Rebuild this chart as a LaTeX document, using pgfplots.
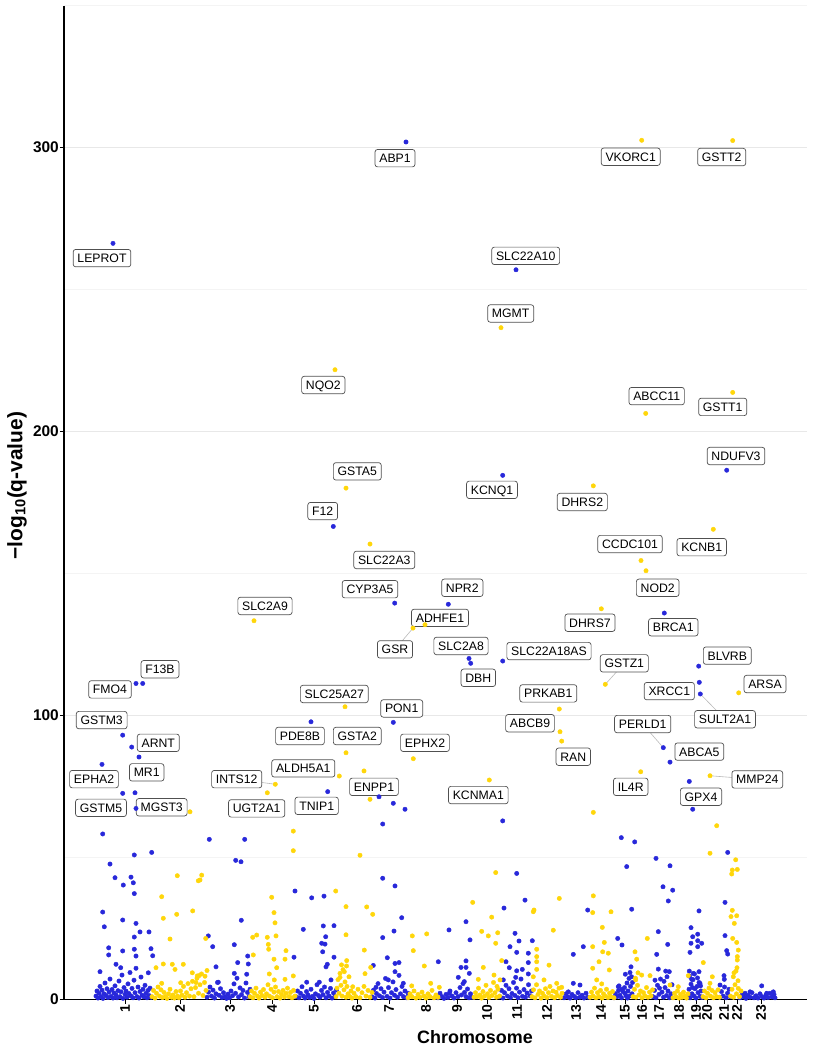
\documentclass[border=0pt]{standalone}
\usepackage{pgfplots}
\pgfplotsset{compat=1.18}
\usepackage{fontspec}
\setmainfont{Liberation Sans}
\definecolor{cblue}{RGB}{40,40,218}
\definecolor{cgold}{RGB}{255,214,10}
\definecolor{gridmaj}{RGB}{232,232,232}
\definecolor{gridmin}{RGB}{244,244,244}
\definecolor{boxline}{RGB}{80,80,80}
\definecolor{segline}{RGB}{185,185,185}
\begin{document}
\begin{tikzpicture}[
  lab/.style={draw=boxline, line width=0.7bp, fill=white, rounded corners=2.5bp, inner xsep=4.3bp, inner ysep=4.2bp, text height=9bp, text depth=0bp, font=\fontsize{12.3}{14}\selectfont},
  seg/.style={draw=segline, line width=0.6bp}]
\begin{axis}[
  scale only axis, width=743bp, height=993.8bp,
  xmin=64, xmax=807, ymin=0, ymax=350,
  axis x line=bottom, axis y line=left,
  axis line style={-, line width=1.1bp, black},
  clip=false,
  xtick={125,180,230,272,314,357,389,426,457,487,517,547,576,601,625,642,659,679,696,707,724,737,761},
  xticklabels={1,2,3,4,5,6,7,8,9,10,11,12,13,14,15,16,17,18,19,20,21,22,23},
  ytick={0,100,200,300}, minor ytick={50,150,250,350},
  ymajorgrids, yminorgrids,
  major grid style={gridmaj, line width=0.8bp},
  minor grid style={gridmin, line width=0.6bp},
  tick align=outside, major tick length=4bp, minor tick length=0pt,
  tick style={black, line width=0.8bp},
  xticklabel style={rotate=90, anchor=east, font=\bfseries\fontsize{14}{16}\selectfont, inner sep=1.5bp},
  yticklabel style={font=\bfseries\fontsize{15.5}{17}\selectfont, inner sep=1bp},
  /pgf/number format/assume math mode=true,
  bluept/.style={only marks, mark=*, mark size=2.2bp, color=cblue, mark options={solid, fill=cblue, draw=cblue, line width=0.4bp}},
  goldpt/.style={only marks, mark=*, mark size=2.2bp, color=cgold, mark options={solid, fill=cgold, draw=cgold, line width=0.4bp}},
]
% ---- blue (odd chromosomes): low band
\addplot[bluept] coordinates {
(96,1.2)(97,3.0)(98,0.5)(99,2.2)(100,4.6)(101,1.0)(102,3.3)(103,0.4)(104,2.0)(105,5.8)(106,1.4)(107,3.8)(108,0.7)(109,2.6)(110,7.2)(111,1.1)(112,3.5)(113,0.5)(114,2.3)(115,4.8)(116,1.6)(117,0.6)(118,3.1)(119,6.5)(120,1.0)(121,2.7)(122,8.6)(123,0.4)(124,4.2)(125,1.8)(126,3.0)(127,0.8)(128,5.5)(129,2.1)(130,9.5)(131,1.2)(132,3.9)(133,0.6)(134,6.8)(135,2.4)(136,11.0)(137,1.0)(138,4.4)(139,0.5)(140,2.8)(141,7.9)(142,1.5)(143,3.6)(144,0.9)(145,5.0)(146,2.2)(147,0.6)(148,3.2)(149,1.4)(150,4.0)(151,0.8)
(207,0.8)(208.5,2.6)(210,4.4)(211.5,1.2)(213,3.3)(214.5,0.5)(216,2.0)(217.5,6.0)(219,1.5)(220.5,3.8)(222,0.7)(223.5,2.4)(225,1.0)(226.5,0.4)(228,1.9)(229.5,0.6)(231,3.0)(232.5,1.3)(234,5.5)(235.5,2.2)(237,7.5)(238.5,0.9)(240,4.1)(241.5,1.7)(243,3.2)(244.5,0.5)(246,5.8)(247.5,2.5)(249,1.0)(250,3.6)
(296,1.0)(297.5,3.0)(299,0.6)(300.5,2.2)(302,4.5)(303.5,1.2)(305,0.5)(306.5,2.8)(308,1.6)(309.5,0.7)(311,3.6)(312.5,1.1)(314,0.4)(315.5,2.0)(317,5.2)(318.5,1.4)(320,0.8)(321.5,3.2)(323,1.7)(324.5,4.4)(326,0.6)(327.5,2.5)(329,1.2)(330.5,3.9)(332,0.5)(333.5,2.3)(335,1.0)(336.5,3.4)
(372,1.0)(373.5,3.3)(375,0.5)(376.5,2.1)(378,5.6)(379.5,1.3)(381,3.8)(382.5,0.7)(384,2.6)(385.5,7.4)(387,1.1)(388.5,4.2)(390,0.5)(391.5,2.4)(393,6.2)(394.5,1.5)(396,3.5)(397.5,0.8)(399,8.5)(400.5,2.0)(402,4.6)(403.5,1.0)(405,3.0)(406.5,0.6)(408,2.2)
(438,0.6)(440,2.2)(442,1.0)(444,0.4)(446,1.8)(448,0.7)(450,3.0)(452,1.2)(454,0.5)(456,2.4)(458,1.0)(460,4.2)(461.5,1.6)(463,5.6)(464.5,2.5)(466,1.0)(467.5,3.7)(469,0.6)(470.5,2.0)(472,0.8)
(500,1.0)(501.5,3.2)(503,0.5)(504.5,2.4)(506,5.0)(507.5,1.2)(509,3.8)(510.5,0.7)(512,2.1)(513.5,6.0)(515,1.4)(516.5,4.0)(518,0.6)(519.5,2.6)(521,7.2)(522.5,1.1)(524,3.5)(525.5,0.8)(527,2.3)(528.5,5.2)(530,1.3)(531.5,3.0)
(564,0.6)(566,2.0)(568,0.9)(570,0.5)(572,1.8)(574,1.1)(576,0.6)(578,2.4)(580,0.8)(582,1.5)(584,0.5)(586,2.2)(588,0.8)
(614,0.6)(615.5,2.0)(617,1.0)(618.5,3.1)(620,1.5)(621.5,0.6)(623,2.8)(624.5,4.2)(626,1.3)(627,5.8)(628,3.0)(629,7.4)(630,9.5)(630.5,4.6)(631,11.5)(631.5,8.0)(632,2.0)(632.5,6.0)(629.5,1.2)(627.5,0.5)(625,2.2)(622,3.6)(619,4.8)
(653,1.0)(654.5,3.2)(656,0.6)(657.5,5.0)(659,1.8)(660.5,7.2)(662,2.6)(663.5,0.8)(665,4.2)(666.5,1.4)(668,3.0)(669.5,0.6)(671,2.0)(672,5.2)(655,6.8)(659.5,4.0)(664,6.4)(667,8.0)
(688,1.0)(689,3.6)(690,0.6)(691,5.4)(692,2.0)(693,7.0)(694,1.2)(695,3.8)(696,0.5)(697,4.6)(698,2.4)(699,6.0)(700,1.1)(701,3.0)(702,0.7)(689.5,8.2)(694.5,9.0)(697.5,7.6)(692.5,4.2)(700.5,4.8)
(720,0.8)(721.5,2.8)(723,1.2)(724.5,4.4)(726,0.6)(727.5,2.2)(729,3.6)(730,1.0)
(740,0.6)(742,1.8)(744,0.9)(746,0.4)(748,1.5)(750,0.8)(752,2.4)(754,0.6)(756,1.3)(758,0.5)(760,2.0)(762,1.0)(764,0.5)(766,1.6)(768,0.7)(770,2.2)(772,0.9)(774,1.8)(775,0.6)
};
% ---- blue: scattered and labelled
\addplot[bluept] coordinates {
(113,266.3)(406,302.0)(516,257.0)(726.7,186.4)(502.7,184.6)(333.3,166.6)(394.7,139.6)(448.3,139.2)(664.3,136.1)
(469,120.1)(470.7,118.4)(502.7,119.2)(698.7,117.4)(699.3,111.7)(700.3,107.6)(136,111.3)(142.7,111.3)
(122.7,93.1)(393.3,97.6)(311,97.8)(131.7,88.9)(139,85.4)(102,82.8)(327.7,73.2)(122.7,72.6)(135,72.8)(136,67.3)
(379,71.4)(393.3,69.1)(405,67.0)(382.7,61.8)(663.3,88.7)(670,83.6)(689.3,76.8)(692.7,67.0)(502.7,62.9)
(621.3,57.0)(634.7,55.5)(727.7,51.8)(656,49.7)(670,47.1)(626.7,46.8)(516.7,44.4)
(102.7,58.3)(134.3,50.9)(151.7,51.8)(110,47.7)(115,42.9)(131,43.1)(123.3,40.3)(133.3,41.1)(134.3,37.3)(102.7,30.8)(104.3,25.6)(122.7,28.0)(136,26.8)(140,23.8)(149,23.8)(134.3,22.0)(108.7,18.2)(108.7,15.7)(122.7,17.1)(134.3,17.7)(136,15.3)(151,17.9)(152.7,15.4)(116,12.4)(120.7,11.2)(100,9.8)(148.3,9.4)
(209.3,56.4)(244.7,56.4)(235.7,49.0)(241,48.5)(241.3,27.9)(208.3,22.4)(212.7,18.6)(234.3,19.3)(247.7,15.3)(237.7,13.0)(216,11.5)(248.3,12.5)(234.3,9.2)(246.7,8.9)(218.3,6.1)
(295,38.2)(311.7,35.8)(324,36.4)(303.3,24.7)(323.3,25.9)(334,26.0)(325.7,22.1)(321.7,19.8)(325,19.5)(322.7,16.8)(294,14.9)(334,14.9)(327.3,12.4)(326,11.5)(306.7,6.1)(319.3,6.1)(331,6.9)
(382.7,42.7)(395,40.0)(401.7,28.8)(382.7,21.8)(394,24.1)(387.3,14.7)(373.3,12.0)(395,12.7)(399,13.0)(395,9.8)(388.3,6.9)(403.3,5.7)(376,4.3)
(449,24.5)(466,27.4)(470,21.0)(438.3,13.3)(461,11.3)(466,13.6)(466,11.3)(458.3,7.8)(464.3,6.3)(469.3,9.2)(449.3,2.2)
(504,32.2)(525,35.0)(515,23.3)(510,18.6)(519,20.6)(516.7,16.6)(532.3,20.7)(528.3,16.3)(528.3,13.0)(506,13.3)(509.3,11.2)(516.7,10.1)(522.3,10.6)(528.3,9.0)(515.7,7.8)(503.3,6.9)
(573.3,15.9)(583.3,18.6)(587.7,31.5)(573.3,5.7)(580,5.1)(568.3,2.7)
(631.7,31.8)(617.7,21.5)(622,19.2)(625.3,8.9)(618.3,4.5)
(658.3,23.9)(656.7,15.9)(667.7,19.4)(658.3,10.7)(665.7,10.0)(669.3,9.8)(663,39.7)(668.3,34.7)(672.7,38.5)
(691,25.3)(699,31.2)(692.7,22.1)(697.7,23.0)(691,19.8)(697.7,20.7)(701.7,19.8)(697.7,18.6)(690,16.6)(689.3,10.0)(693.3,9.2)(699,9.8)(700,5.7)(691.7,7.1)
(725,34.2)(725,22.5)(726.7,17.2)(727.7,16.0)(724,8.4)(720,5.1)(724.3,7.1)
(761.7,4.8)(773.3,2.7)(750,2.7)(745,2.2)(766.7,2.2)
};
% ---- gold (even chromosomes): low band
\addplot[goldpt] coordinates {
(152,1.0)(153.5,3.2)(155,0.5)(156.5,2.2)(158,4.4)(159.5,1.2)(161,3.4)(162.5,0.7)(164,2.5)(165.5,1.0)(167,0.4)(168.5,2.0)(170,3.6)(171.5,0.8)(173,1.6)(174.5,0.5)(176,2.8)(177.5,1.2)(179,0.6)(180.5,3.0)(182,1.5)(183.5,4.6)(185,0.8)(186.5,2.4)(188,5.6)(189.5,1.2)(191,3.8)(192.5,6.4)(194,1.0)(195.5,4.2)(197,7.5)(198.5,2.2)(200,5.2)(201.5,9.0)(203,1.4)(204.5,6.0)(206,3.2)(207,10.2)(205,8.2)(199,8.4)(196,6.0)
(250,1.0)(251.5,3.0)(253,0.6)(254.5,2.2)(256,4.0)(257.5,1.2)(259,0.5)(260.5,2.6)(262,1.4)(263.5,3.5)(265,0.8)(266.5,2.0)(268,5.2)(269.5,1.2)(271,3.6)(272.5,0.6)(274,2.6)(275.5,4.4)(277,1.0)(278.5,2.8)(280,0.5)(281.5,1.8)(283,3.2)(284.5,0.9)(286,2.2)(287.5,4.0)(289,1.0)(290.5,2.5)(292,0.6)(293.5,3.2)(295,1.2)
(336,1.0)(337,4.0)(338,7.0)(339,2.2)(340,9.2)(341,5.0)(342,1.2)(343,10.5)(344,3.4)(345,6.2)(346,0.8)(347,4.6)(348,2.0)(349,8.0)(350,1.0)(351,3.0)(352,0.5)(354,2.2)(356,1.0)(358,3.6)(360,0.6)(362,2.4)(364,4.6)(366,1.2)(368,3.2)(370,0.8)(372,2.5)(346.5,11.8)(341.5,12.2)
(408,0.6)(410,2.0)(412,1.0)(414,3.0)(416,0.5)(418,1.8)(420,0.8)(422,2.6)(424,1.2)(426,0.5)(428,2.0)(430,1.0)(432,3.2)(434,0.6)(436,1.6)(438,0.8)
(474,0.8)(475.5,2.4)(477,1.0)(478.5,4.0)(480,1.6)(481.5,0.5)(483,2.8)(484.5,1.2)(486,5.0)(487.5,2.0)(489,0.7)(490.5,3.2)(492,1.4)(493.5,6.0)(495,2.4)(496.5,0.8)(498,3.6)(499.5,1.2)(494,8.6)(497,4.6)
(532,1.0)(533.5,3.4)(535,0.6)(536.5,5.2)(538,1.8)(539.5,3.0)(541,0.5)(542.5,2.2)(544,1.2)(545.5,3.8)(547,0.7)(548.5,2.4)(550,4.6)(551.5,1.1)(553,3.0)(554.5,0.6)(556,2.6)(557.5,1.4)(559,4.0)(560.5,0.8)(562,2.2)
(590,0.8)(591.5,2.6)(593,1.2)(594.5,4.0)(596,0.6)(597.5,2.4)(599,1.0)(600.5,3.2)(602,0.5)(603.5,2.0)(605,1.2)(606.5,3.6)(608,0.7)(609.5,2.2)(611,1.0)(612.5,2.8)(614,0.6)
(633,1.0)(634.5,3.6)(636,0.8)(637.5,5.0)(639,1.6)(640.5,3.0)(642,0.6)(643.5,2.4)(645,1.2)(646.5,4.2)(648,0.8)(649.5,2.6)(651,1.2)(652.5,3.4)(635.5,7.5)(638,9.4)
(673,0.6)(674.5,2.2)(676,1.0)(677.5,3.0)(679,0.5)(680.5,1.8)(682,0.8)(683.5,2.6)(685,1.2)(686.5,0.5)(688,2.0)
(703,1.0)(704.5,3.0)(706,0.6)(707.5,2.2)(709,4.0)(710.5,1.2)(712,3.2)(713.5,0.6)(715,2.4)(716.5,1.0)(718,3.4)(719.5,0.8)
(730.5,1.2)(732,3.6)(733.5,0.8)(735,5.2)(736.5,2.0)(738,6.6)(739.5,1.0)(741,3.0)(734,9.4)(737,11.2)
};
% ---- gold: scattered and labelled
\addplot[goldpt] coordinates {
(641.7,302.6)(732.7,302.5)(501,236.6)(335,221.8)(732.7,213.8)(645.7,206.4)(346,180.1)(593.3,180.9)(713.3,165.6)(370,160.4)(641,154.6)(646,151.0)(601.3,137.6)(254,133.4)
(605.3,111.0)(738.7,108.0)(559.3,102.3)(345,103.1)(560,94.3)(561.7,91.0)(346,86.9)(413.3,84.8)(640.7,80.2)(364,80.5)(339.3,78.7)(710,78.8)(489.3,77.3)(275.3,75.8)(267.3,72.8)
(370,70.5)(190,66.1)(593.3,65.9)(716.7,61.2)(710,51.5)(735.7,49.2)(737.3,45.8)(732.3,45.6)(731.7,44.2)(495.7,44.7)(293.3,59.3)(293.3,52.4)(360,50.8)(413,130.8)(425,132)
(161.7,36.2)(177.3,43.6)(201.7,43.8)(200,42.1)(198.3,41.8)(163.3,28.6)(176.7,30.0)(192.7,31.2)(170,21.3)(205.7,21.5)(156,11.2)(163.3,12.5)(172.3,12.4)(183.3,12.4)(175,10.6)(192.3,9.4)(197.3,8.3)(180.7,5.9)(161.7,5.7)
(271.7,36.0)(274,30.6)(275,27.0)(252.7,21.9)(256.7,22.7)(267.3,21.9)(276,22.4)(268.3,19.4)(268.7,17.7)(274,14.2)(286,17.2)(285,14.2)(253.3,15.7)(276.7,11.2)(269.3,9.0)(285,7.1)(293.3,8.3)(274.3,6.9)
(335.7,38.2)(346,32.7)(366.7,32.6)(372.7,30.0)(346,22.8)(364.3,17.4)(346.7,13.7)(370.7,11.3)(365,9.1)(344.3,9.8)(340,7.8)(352.7,4.5)
(412.3,22.4)(413.3,17.2)(426.7,23.1)(424.3,11.8)(430.7,5.7)(439.3,4.3)(411.7,4.8)
(472.7,34.2)(481.7,24.0)(491.7,29.0)(488.3,22.4)(497.7,23.5)(495.7,19.8)(483.3,11.3)(478.3,7.1)(501.7,13.7)(500,6.9)
(534,31.5)(533.3,30.9)(559.3,35.6)(553.3,24.4)(536.7,17.7)(536.7,15.1)(536.7,13.3)(549,12.1)(536.7,10.6)(533.3,8.0)(544,6.9)(556.7,5.7)(561.7,4.3)
(593.3,36.5)(592.7,30.6)(611,30.9)(602.3,25.4)(604.3,20.1)(592.7,18.6)(602.7,16.8)(608.3,16.3)(599,13.3)(592.7,11.0)(609.3,10.4)(596.7,6.9)(601.7,5.5)
(647.3,21.5)(635,16.8)(636.7,14.2)(641.7,8.6)(650,8.4)(635.7,6.9)
(678.3,4.5)(670,5.1)(688.3,8.4)
(703.3,13.0)(712.3,8.0)(710,5.7)
(732.3,31.4)(736.7,29.5)(731,29.2)(734.3,26.8)(732.7,21.5)(736.7,20.1)(738.3,17.4)(737.3,15.1)(737.3,13.9)(736,10.0)(733.3,8.0)(738.3,3.9)
};
% ---- connector segments
\draw[seg] (axis cs:395,123.3) -- (axis cs:413,130.8);
\draw[seg] (axis cs:236.7,77.6) -- (axis cs:275.3,75.8);
\draw[seg] (axis cs:624.3,118.4) -- (axis cs:605.3,111.0);
\draw[seg] (axis cs:725,98.7) -- (axis cs:700.3,107.6);
\draw[seg] (axis cs:642.7,97.0) -- (axis cs:663.3,88.7);
\draw[seg] (axis cs:757.3,77.5) -- (axis cs:710,78.8);
% ---- labels
\node[lab] at (axis cs:102,261.1) {LEPROT};
\node[lab] at (axis cs:395,296.3) {ABP1};
\node[lab] at (axis cs:630.7,296.8) {VKORC1};
\node[lab] at (axis cs:721.7,296.7) {GSTT2};
\node[lab] at (axis cs:525.7,261.9) {SLC22A10};
\node[lab] at (axis cs:510.7,241.6) {MGMT};
\node[lab] at (axis cs:323.3,216.4) {NQO2};
\node[lab] at (axis cs:357.3,186.0) {GSTA5};
\node[lab] at (axis cs:322.7,172.0) {F12};
\node[lab] at (axis cs:384.3,154.8) {SLC22A3};
\node[lab] at (axis cs:370,144.5) {CYP3A5};
\node[lab] at (axis cs:265,138.6) {SLC2A9};
\node[lab] at (axis cs:395,123.3) {GSR};
\node[lab] at (axis cs:656.7,212.5) {ABCC11};
\node[lab] at (axis cs:722.7,208.7) {GSTT1};
\node[lab] at (axis cs:736,191.4) {NDUFV3};
\node[lab] at (axis cs:492,179.5) {KCNQ1};
\node[lab] at (axis cs:582.3,175.2) {DHRS2};
\node[lab] at (axis cs:701.7,159.3) {KCNB1};
\node[lab] at (axis cs:630,160.4) {CCDC101};
\node[lab] at (axis cs:657.7,145.0) {NOD2};
\node[lab] at (axis cs:462.3,145.0) {NPR2};
\node[lab] at (axis cs:440,134.4) {ADHFE1};
\node[lab] at (axis cs:590,132.7) {DHRS7};
\node[lab] at (axis cs:673.3,131.1) {BRCA1};
\node[lab] at (axis cs:461,124.5) {SLC2A8};
\node[lab] at (axis cs:478.3,113.3) {DBH};
\node[lab] at (axis cs:549,122.7) {SLC22A18AS};
\node[lab] at (axis cs:624.3,118.4) {GSTZ1};
\node[lab] at (axis cs:727.3,121.1) {BLVRB};
\node[lab] at (axis cs:669.3,108.6) {XRCC1};
\node[lab] at (axis cs:725,98.7) {SULT2A1};
\node[lab] at (axis cs:765,111.1) {ARSA};
\node[lab] at (axis cs:548.3,107.8) {PRKAB1};
\node[lab] at (axis cs:160,116.3) {F13B};
\node[lab] at (axis cs:110,109.2) {FMO4};
\node[lab] at (axis cs:334.3,107.6) {SLC25A27};
\node[lab] at (axis cs:101.7,98.4) {GSTM3};
\node[lab] at (axis cs:401.7,102.5) {PON1};
\node[lab] at (axis cs:300,92.8) {PDE8B};
\node[lab] at (axis cs:357.3,92.8) {GSTA2};
\node[lab] at (axis cs:158.3,90.4) {ARNT};
\node[lab] at (axis cs:425,90.4) {EPHX2};
\node[lab] at (axis cs:146.7,80.0) {MR1};
\node[lab] at (axis cs:94,77.6) {EPHA2};
\node[lab] at (axis cs:303.3,81.4) {ALDH5A1};
\node[lab] at (axis cs:236.7,77.6) {INTS12};
\node[lab] at (axis cs:256.7,67.3) {UGT2A1};
\node[lab] at (axis cs:374,74.9) {ENPP1};
\node[lab] at (axis cs:316.7,68.2) {TNIP1};
\node[lab] at (axis cs:101,67.5) {GSTM5};
\node[lab] at (axis cs:161.7,67.7) {MGST3};
\node[lab] at (axis cs:530,97.3) {ABCB9};
\node[lab] at (axis cs:573.3,85.5) {RAN};
\node[lab] at (axis cs:642.7,97.0) {PERLD1};
\node[lab] at (axis cs:699.3,87.3) {ABCA5};
\node[lab] at (axis cs:630.7,74.9) {IL4R};
\node[lab] at (axis cs:757.3,77.5) {MMP24};
\node[lab] at (axis cs:701,71.4) {GPX4};
\node[lab] at (axis cs:478.3,72.0) {KCNMA1};
\end{axis}
\node[font=\bfseries\fontsize{18}{21}\selectfont] at ([xshift=39.5bp, yshift=-37.3bp]current axis.south) {Chromosome};
\node[rotate=90, font=\bfseries\fontsize{21}{24}\selectfont] at ([xshift=-47bp, yshift=17bp]current axis.west) {\symbol{"2212}log\textsubscript{10}(q-value)};
\pgfresetboundingbox
\path ([shift={(-64bp,-50.5bp)}]current axis.south west) rectangle ([shift={(9bp,5.7bp)}]current axis.north east);
\end{tikzpicture}
\end{document}
